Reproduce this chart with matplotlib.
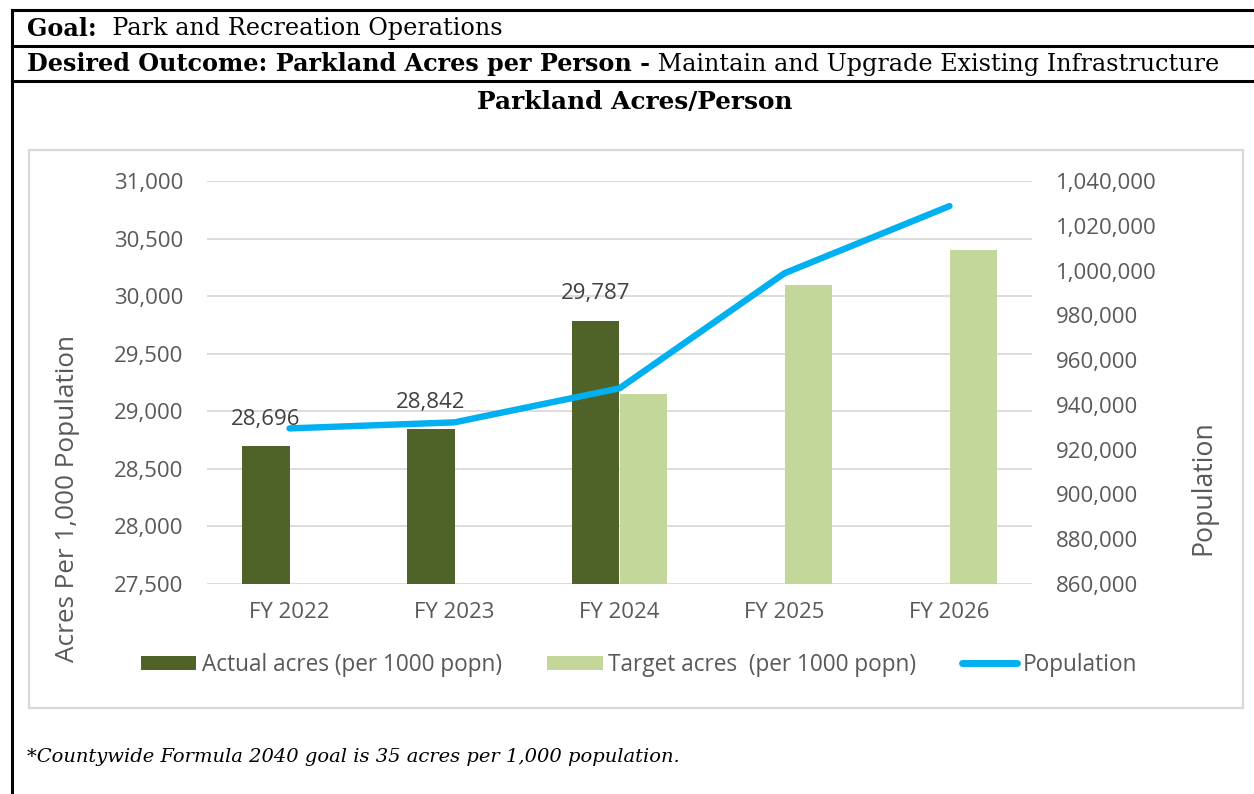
import numpy as np
import matplotlib
matplotlib.use("Agg")
import matplotlib.pyplot as plt
from matplotlib.lines import Line2D
from matplotlib.patches import Rectangle, Patch
from matplotlib.ticker import FuncFormatter

# ---- data ----
fiscal_years = ["FY 2022", "FY 2023", "FY 2024", "FY 2025", "FY 2026"]
actual_acres = [28696, 28842, 29787, np.nan, np.nan]
target_acres = [np.nan, np.nan, 29150, 30100, 30400]
population = [929500, 932200, 947400, 998800, 1028800]

left_ticks = [27500, 28000, 28500, 29000, 29500, 30000, 30500, 31000]
right_ticks = [860000, 880000, 900000, 920000, 940000, 960000, 980000, 1000000, 1020000, 1040000]

# ---- styling ----
W, H = 1254, 794
DARK = "#4f6228"
LIGHT = "#c4d79b"
BLUE = "#00b0f0"
GRID = "#d9d9d9"
TXT = "#595959"
LBL = "#404040"
SANS = ["Open Sans", "DejaVu Sans"]
SERIF = ["DejaVu Serif"]
TICK_SIZE = 16

fig = plt.figure(figsize=(W / 100, H / 100), dpi=100)
fig.patch.set_facecolor("white")


def fx(x):
    return x / W


def fy(y):
    return 1 - y / H


# ---- outer table frame ----
for (x0, y0, x1, y1) in [(12, 10, W, 10), (12, 46, W, 46), (12, 81, W, 81), (12, 10, 12, H)]:
    fig.add_artist(Line2D([fx(x0), fx(x1)], [fy(y0), fy(y1)], color="black", lw=2.2,
                          transform=fig.transFigure))

# ---- chart area border ----
fig.add_artist(Rectangle((fx(29), fy(708)), fx(1243) - fx(29), fy(150) - fy(708),
                         transform=fig.transFigure, fill=False, edgecolor=GRID, lw=1.6))

renderer = fig.canvas.get_renderer()


def runs(x, y, parts, size):
    """Draw consecutive text runs (text, weight, style) starting at pixel x."""
    cur = fx(x)
    for text, weight, style in parts:
        t = fig.text(cur, fy(y), text, fontsize=size, family=SERIF, weight=weight,
                     style=style, va="center", ha="left", color="black")
        bb = t.get_window_extent(renderer=renderer)
        cur = bb.x1 / W


runs(27, 29, [("Goal:", "bold", "normal"), ("  Park and Recreation Operations", "normal", "normal")], 17.2)
runs(27, 64, [("Desired Outcome: Parkland Acres per Person -", "bold", "normal"),
              (" Maintain and Upgrade Existing Infrastructure", "normal", "normal")], 17.2)
fig.text(fx(635), fy(102), "Parkland Acres/Person", fontsize=17.8, family=SERIF,
         weight="bold", ha="center", va="center")
fig.text(fx(27), fy(757), "*Countywide Formula 2040 goal is 35 acres per 1,000 population.",
         fontsize=14, family=SERIF, style="italic", ha="left", va="center")

# ---- plot area ----
ax = fig.add_axes([fx(207), fy(584), fx(1032) - fx(207), fy(181) - fy(584)])
x = np.arange(len(fiscal_years))
bw = 0.285
ax.bar(x - bw / 2, actual_acres, bw, color=DARK, zorder=2)
ax.bar(x + bw / 2, target_acres, bw, color=LIGHT, zorder=2)

ax.set_ylim(left_ticks[0], left_ticks[-1])
ax.set_xlim(-0.5, len(fiscal_years) - 0.5)
ax.set_yticks(left_ticks)
ax.yaxis.set_major_formatter(FuncFormatter(lambda v, p: f"{v:,.0f}"))
ax.set_xticks(x)
ax.set_xticklabels(fiscal_years)
ax.grid(axis="y", color=GRID, lw=1.3, zorder=0)
ax.set_axisbelow(True)
for s in ax.spines.values():
    s.set_visible(False)
ax.tick_params(axis="both", length=0, colors=TXT, labelsize=TICK_SIZE)
ax.tick_params(axis="y", pad=17)
ax.tick_params(axis="x", pad=13)
for lab in ax.get_xticklabels() + ax.get_yticklabels():
    lab.set_family(SANS)

for xi, v in zip(x, actual_acres):
    if not np.isnan(v):
        ax.annotate(f"{v:,.0f}", (xi - bw / 2, v), xytext=(0, 12), textcoords="offset points",
                    ha="center", va="bottom", fontsize=TICK_SIZE, color=LBL, family=SANS)

ax2 = ax.twinx()
ax2.plot(x, population, color=BLUE, lw=4.6, solid_capstyle="round", solid_joinstyle="round",
         zorder=3)
ax2.set_ylim(right_ticks[0], right_ticks[-1])
ax2.set_yticks(right_ticks)
ax2.yaxis.set_major_formatter(FuncFormatter(lambda v, p: f"{v:,.0f}"))
for s in ax2.spines.values():
    s.set_visible(False)
ax2.tick_params(axis="y", length=0, colors=TXT, labelsize=TICK_SIZE, pad=17)
for lab in ax2.get_yticklabels():
    lab.set_family(SANS)

# axis titles
fig.text(fx(68), fy(499), "Acres Per 1,000 Population", rotation=90, ha="center", va="center",
         fontsize=18.8, color=TXT, family=SANS)
fig.text(fx(1203), fy(488), "Population", rotation=90, ha="center", va="center",
         fontsize=19.2, color=TXT, family=SANS)

# ---- legend ----
handles = [Patch(facecolor=DARK), Patch(facecolor=LIGHT),
           Line2D([], [], color=BLUE, lw=5, solid_capstyle="round")]
labels = ["Actual acres (per 1000 popn)", "Target acres  (per 1000 popn)", "Population"]
leg = fig.legend(handles, labels, loc="center", bbox_to_anchor=(fx(639), fy(665)), ncol=3,
                 frameon=False, handlelength=2.45, handleheight=0.6,
                 handletextpad=0.25, columnspacing=2.0, prop={"family": SANS, "size": 16.3})
for t in leg.get_texts():
    t.set_color(TXT)

fig.savefig("out.png", dpi=100, facecolor="white")
